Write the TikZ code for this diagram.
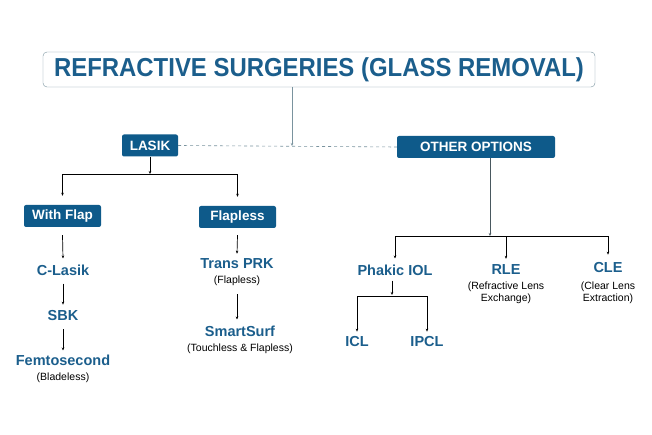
\documentclass[tikz,border=0pt]{standalone}
\usepackage{fontspec}
\setmainfont{Liberation Sans}
\usetikzlibrary{arrows.meta}
\definecolor{bx}{HTML}{0E5A8A}
\definecolor{tx}{HTML}{1B5E8C}
\definecolor{gl}{HTML}{7A939E}
\begin{document}
\begin{tikzpicture}[x=1pt,y=-1pt,
 box/.style={fill=bx,text=white,rounded corners=2pt,font=\bfseries\fontsize{13.5}{14}\selectfont,inner sep=0pt,minimum height=22pt},
 lbl/.style={text=tx,font=\bfseries\fontsize{14.5}{16}\selectfont,inner sep=0pt},
 sub/.style={font=\fontsize{10.5}{11.5}\selectfont,inner sep=0pt,align=center},
 ar/.style={-{Stealth[length=3pt,width=2.5pt]},line width=0.7pt},
 ln/.style={line width=0.7pt}]
\useasboundingbox (0,0) rectangle (652,435);
\node[draw=gl,rounded corners=4pt,minimum width=552pt,minimum height=35pt,text=tx,font=\bfseries\fontsize{26}{28}\selectfont] (title) at (319,69.5) {\scalebox{0.92}[1]{REFRACTIVE SURGERIES (GLASS REMOVAL)}};
\node[box,minimum width=56pt] (lasik) at (150,145.5) {LASIK};
\node[box,minimum width=158pt] (other) at (476,147) {OTHER OPTIONS};
\coordinate (mid) at (292,146);
\draw[ar,gl] (title.south -| mid) -- (mid);
\draw[gl,dashed,line width=0.6pt] (lasik.east) -- (other.west);
\node[box,minimum width=77pt] (wf) at (62.5,216) {With Flap};
\node[box,minimum width=77pt] (fl) at (237.5,217) {Flapless};
\coordinate (j1) at (150,174);
\draw[ar] (lasik.south) -- (j1);
\draw[ar] (j1) -| ([yshift=9pt]wf.north);
\draw[ar] (j1) -| ([yshift=9pt]fl.north);
\node[lbl] (cl) at (63,270) {C-Lasik};
\node[lbl] (sbk) at (63,316) {SBK};
\node[lbl] (fe) at (63,360) {Femtosecond};
\node[sub] (fes) at (63,378) {(Bladeless)};
\draw[ar] ([yshift=-8pt]wf.south) -- ([yshift=6pt]cl.north);
\draw[ar] ([yshift=-8pt]cl.south) -- ([yshift=6pt]sbk.north);
\draw[ar] ([yshift=-8pt]sbk.south) -- ([yshift=4pt]fe.north);
\node[lbl] (tp) at (237,264) {Trans PRK};
\node[sub] (tps) at (237,281) {(Flapless)};
\node[lbl] (ss) at (240,331) {SmartSurf};
\node[sub] (sss) at (240,349) {(Touchless \& Flapless)};
\draw[ar] ([yshift=-7pt]fl.south) -- ([yshift=5pt]tp.north);
\draw[ar] ([yshift=-8pt]tps.south -| tp) -- ([yshift=6pt]ss.north -| tp);
\node[lbl] (ph) at (395,270) {Phakic IOL};
\node[lbl] (rle) at (506,270) {RLE};
\node[sub] (rles) at (506,293) {(Refractive Lens\\Exchange)};
\node[lbl] (cle) at (608,268) {CLE};
\node[sub] (cles) at (608,293) {(Clear Lens\\Extraction)};
\coordinate (j2) at (490,236);
\draw[ar,gl!60!black] (other.south -| j2) -- (j2);
\draw[ar] (j2) -| ([yshift=6pt]ph.north);
\draw[ar] (j2) -| ([yshift=6pt]rle.north);
\draw[ar] (j2) -| ([yshift=8pt]cle.north);
\node[lbl] (icl) at (357,342) {ICL};
\node[lbl] (ipcl) at (427,342) {IPCL};
\coordinate (j3) at (392,296);
\draw[ar] ([yshift=-5pt]ph.south -| j3) -- ([yshift=1pt]j3);
\draw[ar] (j3) -| ([yshift=5pt]icl.north);
\draw[ar] (j3) -| ([yshift=5pt]ipcl.north);
\end{tikzpicture}
\end{document}
